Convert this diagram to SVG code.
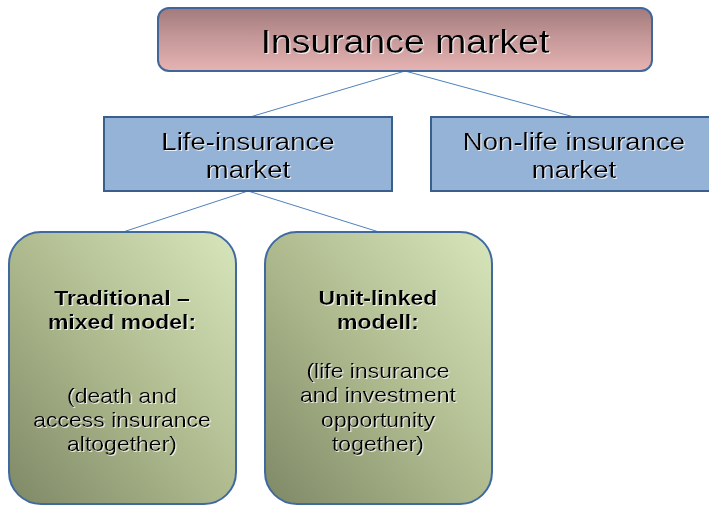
<svg xmlns="http://www.w3.org/2000/svg" width="709" height="505" viewBox="0 0 709 505">
  <defs>
    <linearGradient id="gTop" x1="0" y1="0" x2="0" y2="1">
      <stop offset="0" stop-color="#a27b7c"/>
      <stop offset="0.45" stop-color="#c39697"/>
      <stop offset="1" stop-color="#e6b3b2"/>
    </linearGradient>
    <linearGradient id="gGreen" x1="0" y1="1" x2="1" y2="0">
      <stop offset="0" stop-color="#7f8866"/>
      <stop offset="0.5" stop-color="#afbb8f"/>
      <stop offset="1" stop-color="#d8e6bc"/>
    </linearGradient>
    <filter id="glow" x="-10%" y="-30%" width="120%" height="160%">
      <feDropShadow dx="1" dy="1" stdDeviation="0.4" flood-color="#ffffff" flood-opacity="0.8"/>
    </filter>
  </defs>
  <style>
    .t { font-family: "Liberation Sans", Arial, sans-serif; fill: #000; text-anchor: middle; filter: url(#glow); }
    .title { font-size: 32.5px; }
    .mid { font-size: 24px; }
    .b { font-size: 20px; font-weight: bold; }
    .r { font-size: 20px; }
    .conn { stroke: #4f81bd; stroke-width: 1; fill: none; }
  </style>

  <g id="connectors">
    <line class="conn" x1="405" y1="71" x2="250" y2="117"/>
    <line class="conn" x1="405" y1="71" x2="574" y2="117"/>
    <line class="conn" x1="248" y1="191" x2="123" y2="232"/>
    <line class="conn" x1="248" y1="191" x2="379" y2="232"/>
  </g>

  <g id="insurance-market">
    <rect x="158" y="8" width="494" height="63" rx="11" ry="11" fill="url(#gTop)" stroke="#41679a" stroke-width="2"/>
    <g transform="translate(405,53) scale(1.15,1)">
      <text class="t title" x="0" y="0">Insurance market</text>
    </g>
  </g>

  <g id="life-insurance-market">
    <rect x="104" y="117" width="288" height="74" fill="#95b3d7" stroke="#3a5f8c" stroke-width="2"/>
    <g transform="translate(248,0) scale(1.15,1)">
      <text class="t mid" x="0" y="150">Life-insurance</text>
      <text class="t mid" x="0" y="178">market</text>
    </g>
  </g>

  <g id="non-life-insurance-market">
    <rect x="431" y="117" width="290" height="74" fill="#95b3d7" stroke="#3a5f8c" stroke-width="2"/>
    <g transform="translate(574,0) scale(1.15,1)">
      <text class="t mid" x="0" y="150">Non-life insurance</text>
      <text class="t mid" x="0" y="178">market</text>
    </g>
  </g>

  <g id="traditional-mixed-model">
    <rect x="9" y="232" width="227" height="272" rx="32" ry="32" fill="url(#gGreen)" stroke="#3e6aa0" stroke-width="2"/>
    <g transform="translate(122,0) scale(1.15,1)">
      <text class="t b" x="0" y="305">Traditional –</text>
      <text class="t b" x="0" y="329">mixed model:</text>
      <text class="t r" x="0" y="403">(death and</text>
      <text class="t r" x="0" y="427">access insurance</text>
      <text class="t r" x="0" y="451">altogether)</text>
    </g>
  </g>

  <g id="unit-linked-model">
    <rect x="265" y="232" width="227" height="272" rx="32" ry="32" fill="url(#gGreen)" stroke="#3e6aa0" stroke-width="2"/>
    <g transform="translate(378,0) scale(1.15,1)">
      <text class="t b" x="0" y="305">Unit-linked</text>
      <text class="t b" x="0" y="329">modell:</text>
      <text class="t r" x="0" y="378">(life insurance</text>
      <text class="t r" x="0" y="402">and investment</text>
      <text class="t r" x="0" y="427">opportunity</text>
      <text class="t r" x="0" y="451">together)</text>
    </g>
  </g>
</svg>
